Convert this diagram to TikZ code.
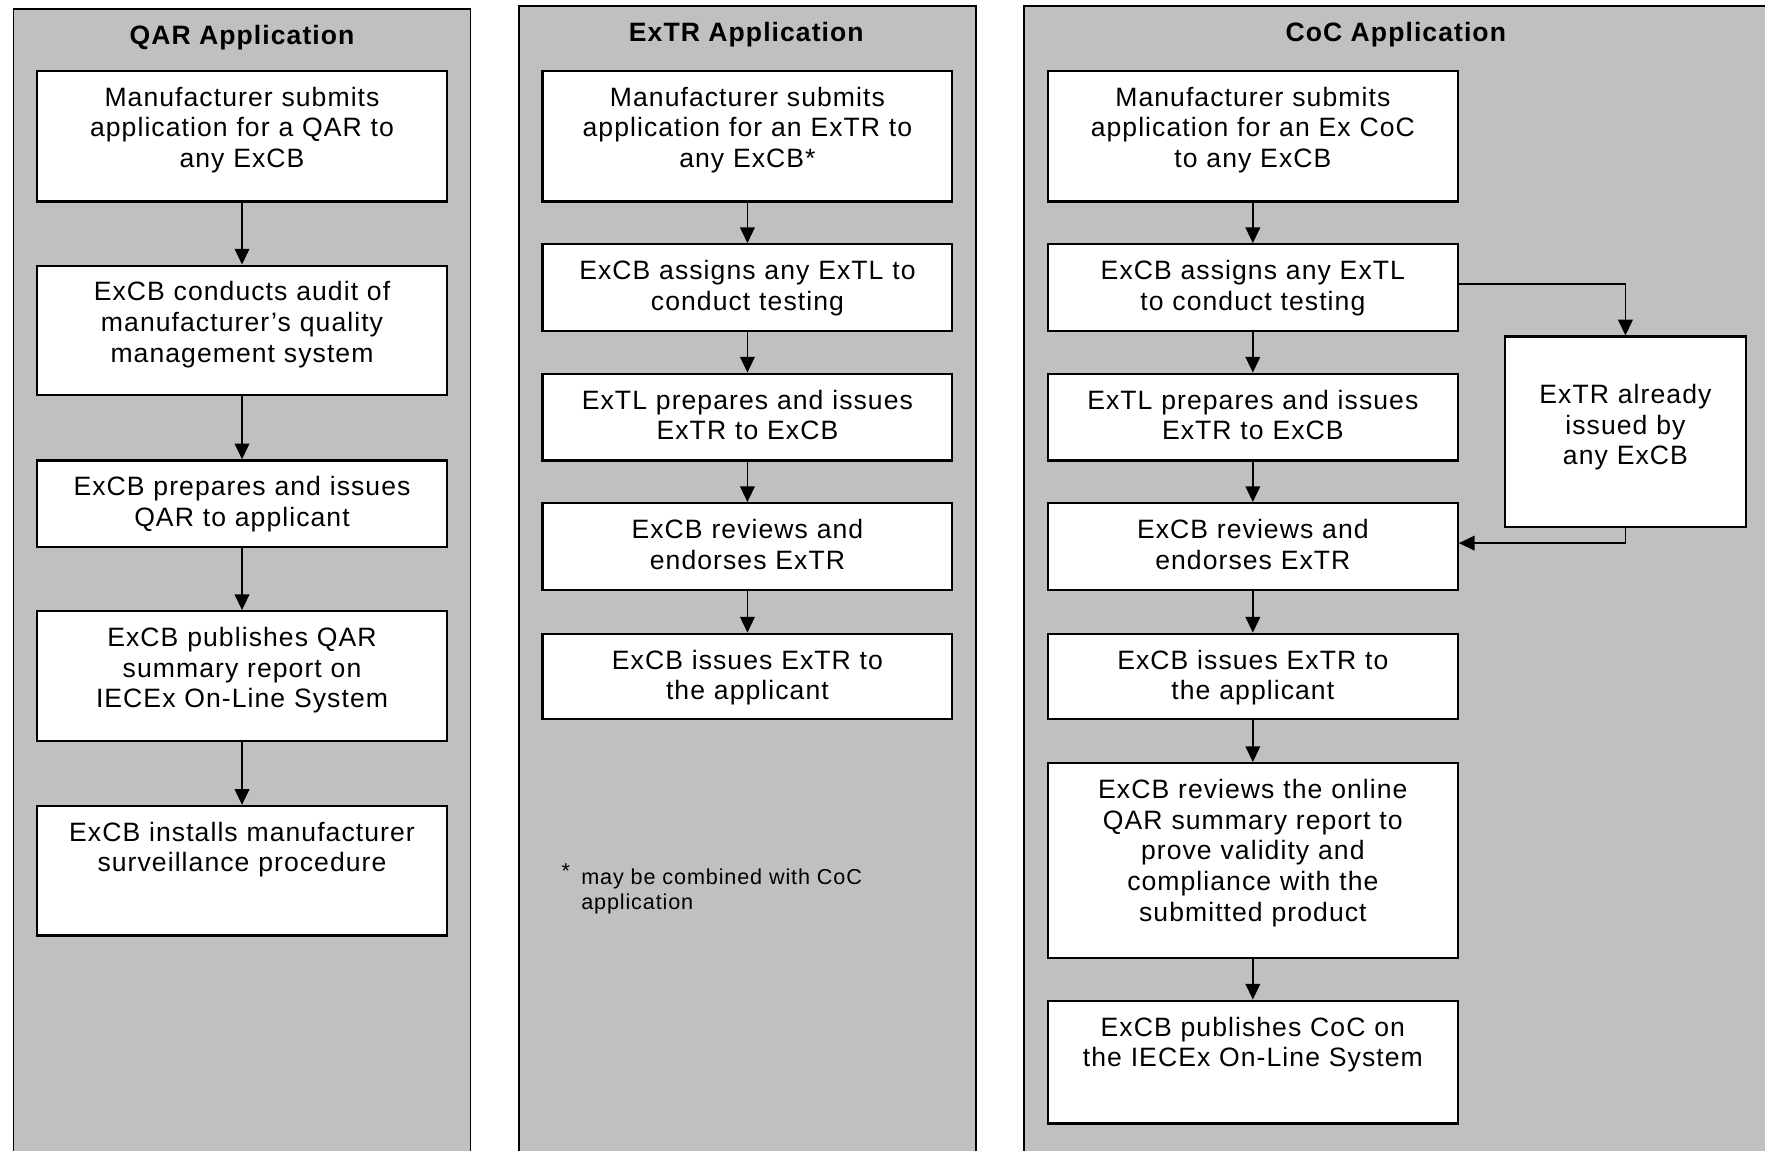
\documentclass[tikz,border=0pt]{standalone}
\usepackage{fontspec}
\setmainfont{Liberation Sans}[LetterSpace=4]
\usetikzlibrary{arrows.meta}

\definecolor{panelgray}{HTML}{C0C0C0}
\tikzset{
  panel/.style = {draw, line width=0.8pt, fill=panelgray},
  box/.style = {draw, fill=white, line width=1pt, text width=182pt, align=center,
                inner sep=0pt, text height=15.7pt, text depth=#1, anchor=north},
  title/.style = {font=\bfseries\fontsize{11.8}{13.6}\selectfont},
  note/.style = {font=\fontsize{9.6}{11}\selectfont, align=left, anchor=north west, inner sep=0pt},
  arr/.style = {-{Triangle[width=6.5pt,length=7pt]}, line width=0.8pt}
}

\begin{document}
\begin{tikzpicture}[x=0.5pt, y=-0.5pt, font=\fontsize{11.8}{13.6}\selectfont]
    \useasboundingbox (0,0) rectangle (1568,1022);
    \clip (0,0) rectangle (1568,1022);

    % the three columns
    \draw [panel] (12,8) rectangle (418,1030);
    \draw [panel] (461,5) rectangle (867,1030);
    \draw [panel] (910,5) rectangle (1580,1030);
    \node [title] (qartitle) at (215,33) {QAR Application};
    \node [title] (extrtitle) at (663,31) {ExTR Application};
    \node [title] (coctitle) at (1240,31) {CoC Application};

    % QAR column
    \node [box=42.3pt] (qa1) at (215,62) {Manufacturer submits\\application for a QAR to\\any ExCB};
    \node [box=41.8pt] (qa2) at (215,235) {ExCB conducts audit of\\manufacturer’s quality\\management system};
    \node [box=22.8pt] (qa3) at (215,408) {ExCB prepares and issues\\QAR to applicant};
    \node [box=41.8pt] (qa4) at (215,542) {ExCB publishes QAR\\summary report on\\IECEx On-Line System};
    \node [box=41.8pt] (qa5) at (215,715) {ExCB installs manufacturer\\surveillance procedure};
    \draw [arr] (qa1) -- (qa2);
    \draw [arr] (qa2) -- (qa3);
    \draw [arr] (qa3) -- (qa4);
    \draw [arr] (qa4) -- (qa5);

    % ExTR column
    \node [box=42.3pt] (ex1) at (664,62) {Manufacturer submits\\application for an ExTR to\\any ExCB*};
    \node [box=22.8pt] (ex2) at (664,216) {ExCB assigns any ExTL to\\conduct testing};
    \node [box=22.8pt] (ex3) at (664,331) {ExTL prepares and issues\\ExTR to ExCB};
    \node [box=22.8pt] (ex4) at (664,446) {ExCB reviews and\\endorses ExTR};
    \node [box=22.3pt] (ex5) at (664,562) {ExCB issues ExTR to\\the applicant};
    \draw [arr] (ex1) -- (ex2);
    \draw [arr] (ex2) -- (ex3);
    \draw [arr] (ex3) -- (ex4);
    \draw [arr] (ex4) -- (ex5);
    \node [note] (exnote) at (516,767) {\llap{\raisebox{2.5pt}{*}\hspace{5pt}}may be combined with CoC\\application};

    % CoC column
    \node [box=42.3pt] (co1) at (1113,62) {Manufacturer submits\\application for an Ex CoC\\to any ExCB};
    \node [box=22.8pt] (co2) at (1113,216) {ExCB assigns any ExTL\\to conduct testing};
    \node [box=22.8pt] (co3) at (1113,331) {ExTL prepares and issues\\ExTR to ExCB};
    \node [box=22.8pt] (co4) at (1113,446) {ExCB reviews and\\endorses ExTR};
    \node [box=22.3pt] (co5) at (1113,562) {ExCB issues ExTR to\\the applicant};
    \node [box=70.8pt] (co6) at (1113,677) {ExCB reviews the online\\QAR summary report to\\prove validity and\\compliance with the\\submitted product};
    \node [box=38.8pt] (co7) at (1113,888) {ExCB publishes CoC on\\the IECEx On-Line System};
    \node [box=54.8pt, text width=107pt, text height=29.7pt] (side) at (1444,298) {ExTR already\\issued by\\any ExCB};
    \draw [arr] (co1) -- (co2);
    \draw [arr] (co2) -- (co3);
    \draw [arr] (co3) -- (co4);
    \draw [arr] (co4) -- (co5);
    \draw [arr] (co5) -- (co6);
    \draw [arr] (co6) -- (co7);
    \draw [arr] ([yshift=1.5pt]co2.east) -| (side.north);
    \draw [arr] (side.south) |- ([yshift=1.5pt]co4.east);
\end{tikzpicture}
\end{document}
